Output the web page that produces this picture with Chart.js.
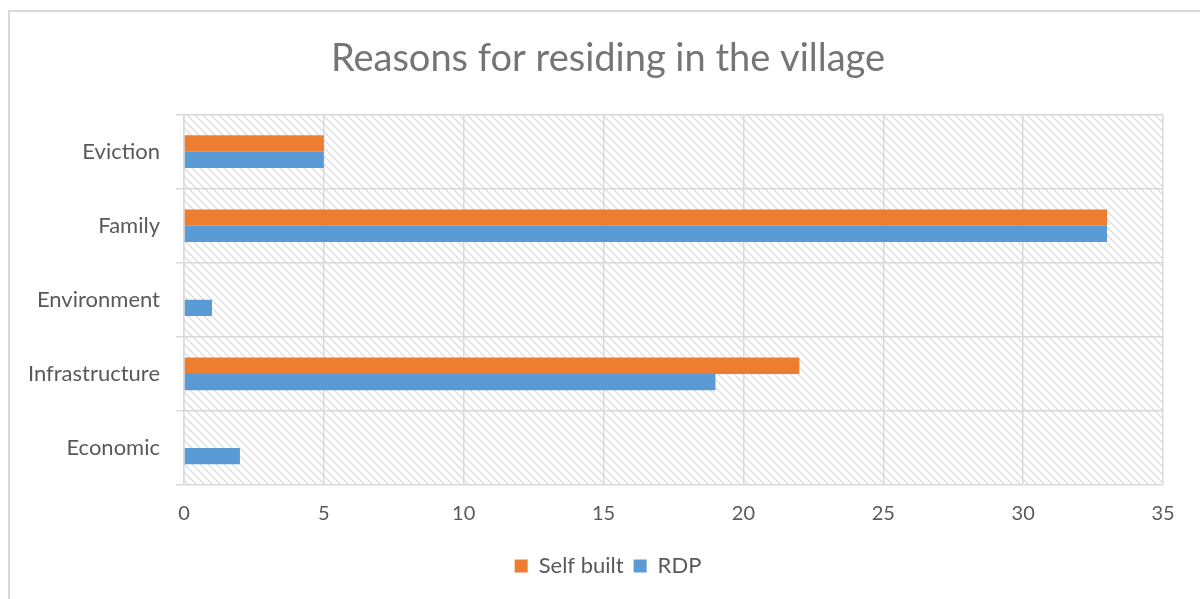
<!DOCTYPE html>
<html>
<head>
<meta charset="utf-8">
<script src="https://cdn.jsdelivr.net/npm/chart.js@4/dist/chart.umd.min.js"></script>
<style>
	html, body { margin: 0; padding: 0; background: #fff; overflow: hidden; }
	#frame { position: absolute; left: 8px; top: 10px; width: 1300px; height: 700px; border: 2px solid #d9d9d9; box-sizing: border-box; }
	#mycanvas { position: absolute; left: 0; top: 0; }
</style>
</head>
<body>
<div id="frame"></div>
<canvas id="mycanvas" width="1200" height="599"></canvas>
<script>
var categories = ["Eviction", "Family", "Environment", "Infrastructure", "Economic"];
var selfBuilt = [5, 33, 0, 22, 0];
var rdp = [5, 33, 1, 19, 2];
var xTicks = [0, 5, 10, 15, 20, 25, 30, 35];

var FONT = "Lato, 'Open Sans', sans-serif";

// diagonal hatch for the plot area
function makeHatch() {
	var c = document.createElement("canvas");
	c.width = 8;
	c.height = 8;
	var g = c.getContext("2d");
	g.strokeStyle = "#dcdcdc";
	g.lineWidth = 1.3;
	g.beginPath();
	g.moveTo(-2, -2); g.lineTo(10, 10);
	g.moveTo(-2, 6); g.lineTo(2, 10);
	g.moveTo(6, -2); g.lineTo(10, 2);
	g.stroke();
	return g.createPattern(c, "repeat");
}

var hatchBg = {
	id: "hatchBg",
	afterLayout: function(chart) {
		// centre title and legend over the whole frame, not just the plot
		if (chart.titleBlock) {
			chart.titleBlock.left = 16;
			chart.titleBlock.right = 1200;
		}
		if (chart.legend) {
			chart.legend.left = 16;
			chart.legend.right = 1200;
		}
	},
	beforeDraw: function(chart) {
		var a = chart.chartArea;
		var ctx = chart.ctx;
		ctx.save();
		ctx.fillStyle = makeHatch();
		ctx.fillRect(a.left, a.top, a.right - a.left, a.bottom - a.top);
		ctx.restore();
	}
};

var ctx = document.getElementById("mycanvas");

var chart = new Chart(ctx, {
	type: "bar",
	data: {
		labels: categories,
		datasets: [
			{
				label: "Self built",
				data: selfBuilt,
				backgroundColor: "#ED7D31",
				categoryPercentage: 0.44,
				barPercentage: 1.0
			},
			{
				label: "RDP",
				data: rdp,
				backgroundColor: "#5B9BD5",
				categoryPercentage: 0.44,
				barPercentage: 1.0
			}
		]
	},
	options: {
		indexAxis: "y",
		responsive: false,
		animation: false,
		layout: { padding: { left: 8, right: 37, top: 0, bottom: 12 } },
		plugins: {
			title: {
				display: true,
				text: "Reasons for residing in the village",
				color: "#757575",
				font: { family: FONT, size: 38, weight: "normal" },
				padding: { top: 36, bottom: 33 }
			},
			legend: {
				position: "bottom",
				labels: {
					color: "#595959",
					font: { family: FONT, size: 22 },
					boxWidth: 13,
					boxHeight: 13,
					padding: 10
				}
			},
			tooltip: { enabled: false }
		},
		scales: {
			x: {
				min: 0,
				max: 35,
				afterBuildTicks: function(scale) {
					scale.ticks = xTicks.map(function(v) { return { value: v }; });
				},
				afterFit: function(scale) { scale.height = 60; },
				grid: { color: "#d9d9d9", lineWidth: 1.5, drawTicks: false },
				border: { display: false },
				ticks: {
					color: "#595959",
					padding: 17,
					font: { family: FONT, size: 20 }
				}
			},
			y: {
				afterFit: function(scale) { scale.width = 176; },
				grid: { color: "#d9d9d9", lineWidth: 1.5, tickLength: 8, offset: true },
				border: { color: "#d9d9d9", width: 1.5 },
				ticks: {
					color: "#595959",
					padding: 16,
					font: { family: FONT, size: 22 }
				}
			}
		}
	},
	plugins: [hatchBg]
});
</script>
</body>
</html>
